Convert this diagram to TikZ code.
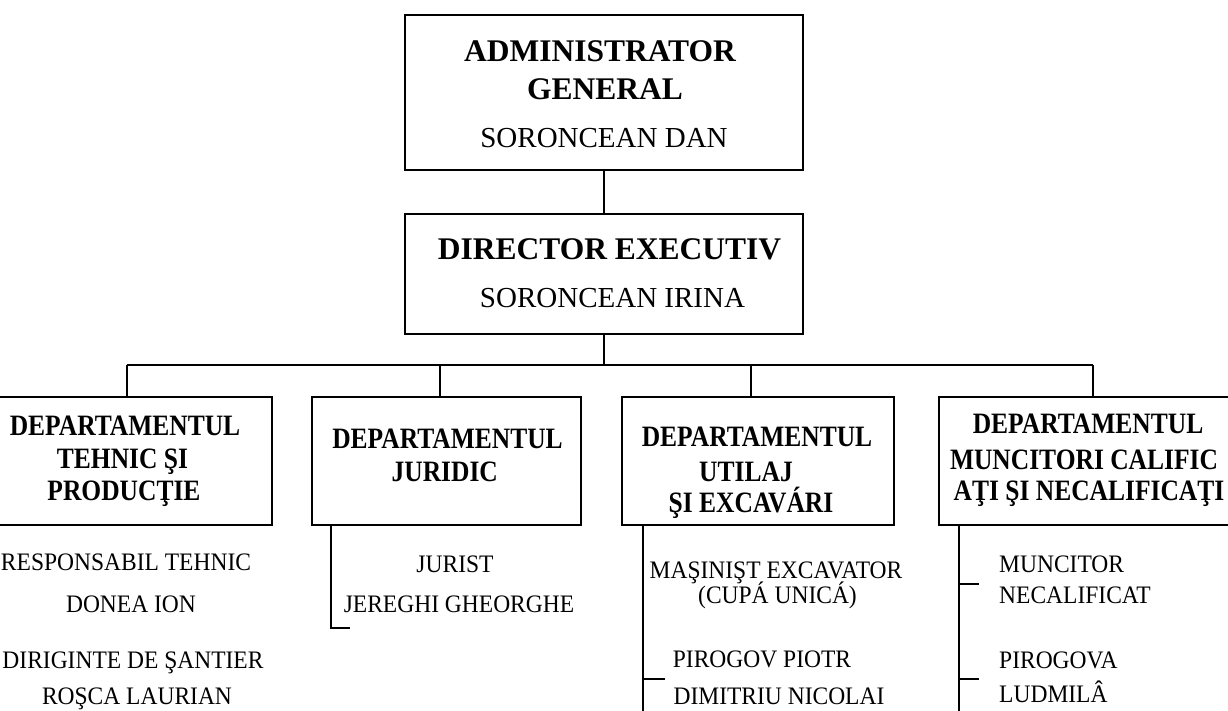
\documentclass[tikz,border=0pt]{standalone}
\usepackage{graphicx}
\usepackage{fontspec}
\setmainfont{Liberation Serif}
\newcommand{\tallD}[1]{\scalebox{1}[1.16]{#1}}
\newcommand{\tallS}[1]{\scalebox{1}[1.07]{#1}}
\begin{document}
\begin{tikzpicture}[x=1pt,y=-1pt,
  box/.style={draw, line width=1.8pt, inner sep=0pt, minimum height=128pt},
  ln/.style={line width=1.8pt},
  tl/.style={anchor=base, inner sep=0pt},
  bigb/.style={tl, font=\fontsize{31.5}{36}\selectfont\bfseries},
  bigr/.style={tl, font=\fontsize{29}{34}\selectfont},
  depb/.style={tl, font=\fontsize{25.5}{30}\selectfont\bfseries},
  smr/.style={tl, font=\fontsize{23.5}{28}\selectfont},
  sml/.style={smr, anchor=base west}]
\useasboundingbox (0,0) rectangle (1228,711);
\clip (0,0) rectangle (1228,711);
\fill[white] (0,0) rectangle (1228,711);

% top boxes
\node[box, minimum width=398pt, minimum height=155pt] (adm) at (604,92.5) {};
\node[box, minimum width=398pt, minimum height=120pt] (dir) at (604,274) {};
\node[bigb] (admA) at (600,62) {ADMINISTRATOR};
\node[bigb] (admB) at (605,100) {GENERAL};
\node[bigr] (admC) at (604,148) {SORONCEAN DAN};
\node[bigb] (dirA) at (609.5,259) {DIRECTOR EXECUTIV};
\node[bigr] (dirB) at (612.5,307) {SORONCEAN IRINA};

% department boxes
\node[box, minimum width=290pt] (d1) at (127,461) {};
\node[box, minimum width=269pt] (d2) at (446.5,461) {};
\node[box, minimum width=272pt] (d3) at (758,461) {};
\node[box, minimum width=308pt] (d4) at (1093,461) {};

% connectors
\coordinate (bus) at (604,365);
\coordinate (t1) at (127,365);
\coordinate (t2) at (440,365);
\coordinate (t3) at (751,365);
\coordinate (t4) at (1093,365);
\draw[ln] (adm.south) -- (dir.north);
\draw[ln] (dir.south) -- (bus);
\draw[ln] (t1) -- (t4);
\draw[ln] (t1) -- (t1 |- d1.north);
\draw[ln] (t2) -- (t2 |- d2.north);
\draw[ln] (t3) -- (t3 |- d3.north);
\draw[ln] (t4) -- (t4 |- d4.north);

% dept 1
\node[depb] (d1a) at (125,435) {\tallD{DEPARTAMENTUL}};
\node[depb] (d1b) at (122.5,468) {\tallD{TEHNIC ŞI}};
\node[depb] (d1c) at (124,500) {\tallD{PRODUCŢIE}};
\node[smr] (p1a) at (126,570) {\tallS{RESPONSABIL TEHNIC}};
\node[smr] (p1b) at (131,612) {\tallS{DONEA ION}};
\node[smr] (p1c) at (133,668) {\tallS{DIRIGINTE DE ŞANTIER}};
\node[smr] (p1d) at (137,704) {\tallS{ROŞCA LAURIAN}};

% dept 2
\node[depb] (d2a) at (447.5,448) {\tallD{DEPARTAMENTUL}};
\node[depb] (d2b) at (444.8,481) {\tallD{JURIDIC}};
\node[smr] (p2a) at (455,572) {\tallS{JURIST}};
\node[smr] (p2b) at (459,612) {\tallS{JEREGHI GHEORGHE}};
\coordinate (b2top) at (331,525);
\coordinate (b2bot) at (331,628);
\coordinate (b2end) at (350,628);
\draw[ln] (b2top) -- (b2bot) -- (b2end);

% dept 3
\node[depb] (d3a) at (757,446) {\tallD{DEPARTAMENTUL}};
\node[depb] (d3b) at (746,481) {\tallD{UTILAJ}};
\node[depb] (d3c) at (751,512) {\tallD{ŞI EXCAVÁRI}};
\node[smr] (p3a) at (776,578) {\tallS{MAŞINIŞT EXCAVATOR}};
\node[smr] (p3b) at (777.5,603) {\tallS{(CUPÁ UNICÁ)}};
\node[smr] (p3c) at (762,667) {\tallS{PIROGOV PIOTR}};
\node[smr] (p3d) at (779,704) {\tallS{DIMITRIU NICOLAI}};
\coordinate (b3top) at (643,525);
\coordinate (b3bot) at (643,720);
\coordinate (b3t) at (643,679);
\coordinate (b3e) at (665,679);
\draw[ln] (b3top) -- (b3bot);
\draw[ln] (b3t) -- (b3e);

% dept 4
\node[depb] (d4a) at (1088,433) {\tallD{DEPARTAMENTUL}};
\node[depb] (d4b) at (1084,469) {\tallD{MUNCITORI CALIFIC}};
\node[depb] (d4c) at (1089,500) {\tallD{AŢI ŞI NECALIFICAŢI}};
\node[sml] (p4a) at (999,572) {\tallS{MUNCITOR}};
\node[sml] (p4b) at (999,603) {\tallS{NECALIFICAT}};
\node[sml] (p4c) at (999,668) {\tallS{PIROGOVA}};
\node[sml] (p4d) at (999,702) {\tallS{LUDMILÂ}};
\coordinate (b4top) at (959,525);
\coordinate (b4bot) at (959,720);
\coordinate (b4t1) at (959,584);
\coordinate (b4e1) at (979,584);
\coordinate (b4t2) at (959,679);
\coordinate (b4e2) at (979,679);
\draw[ln] (b4top) -- (b4bot);
\draw[ln] (b4t1) -- (b4e1);
\draw[ln] (b4t2) -- (b4e2);
\end{tikzpicture}
\end{document}
